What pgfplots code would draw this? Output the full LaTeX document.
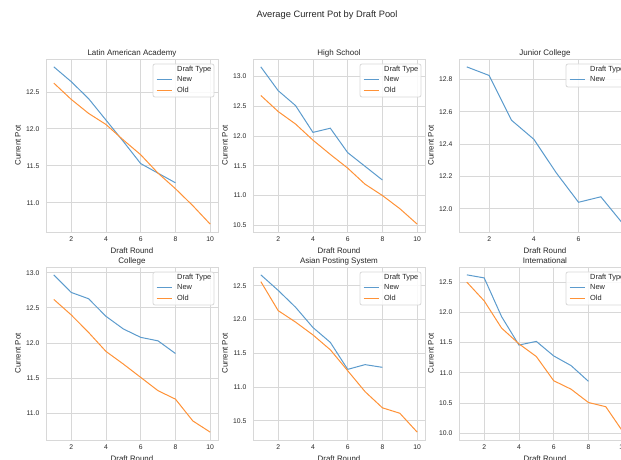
\documentclass[border=0pt]{standalone}
\usepackage{fontspec}
\setmainfont{Liberation Sans}
\usepackage{pgfplots}
\pgfplotsset{compat=1.18}
\definecolor{newc}{RGB}{92,155,205}
\definecolor{oldc}{RGB}{255,146,55}
\definecolor{txt}{HTML}{262626}
\definecolor{gridc}{HTML}{D8D8D8}
\newcommand{\legfont}{\fontsize{7.4}{8.8}\selectfont}
% legend: frame, title and entries, placed relative to the axis top-right corner
\newcommand{\legendbox}[1]{%
  \draw[gridc, fill=white, fill opacity=0.85, rounded corners=2pt, line width=0.8pt]
     (axis description cs:1,1) ++(-65pt,-5pt) rectangle ++(61pt,-#1);
  \node[anchor=base west, inner sep=0pt, font=\legfont, text=txt]
     at ([shift={(-41pt,-12.7pt)}]axis description cs:1,1) {Draft Type};}
\newcommand{\legendentry}[3]{% color, row centre offset, text
  \draw[#1, line width=1pt] ([shift={(-61.3pt,-#2)}]axis description cs:1,1) -- ++(15.6pt,0pt);
  \node[anchor=west, inner sep=0pt, font=\legfont, text=txt]
     at ([shift={(-41pt,-#2)}]axis description cs:1,1) {\vphantom{Nd}#3};}
\pgfplotsset{
 every axis title shift=0pt,
 newline/.style={color=newc, line width=1pt},
 oldline/.style={color=oldc, line width=1pt},
 panel/.style={
  scale only axis, width=172pt, height=173pt,
  anchor=south west,
  axis line style={draw=gridc, line width=0.8pt},
  grid=major, major grid style={draw=gridc, line width=0.8pt},
  major tick length=0pt,
  xtick={2,4,6,8,10},
  xmin=0.55, xmax=10.45,
  /pgf/number format/assume math mode=true,
  ticklabel style={font=\fontsize{6.8}{8}\selectfont, text=txt, inner sep=0pt},
  xticklabel style={anchor=north, yshift=-5pt},
  yticklabel style={anchor=east, xshift=-6.5pt, /pgf/number format/.cd, fixed, fixed zerofill, precision=1},
  xlabel={Draft Round}, ylabel={Current Pot},
  label style={font=\fontsize{7.9}{9.5}\selectfont, text=txt},
  xlabel style={at={(axis description cs:0.5,-0.127)}, anchor=base},
  ylabel style={at={(axis description cs:-0.163,0.5)}, anchor=center},
  title style={at={(axis description cs:0.5,1.021)}, anchor=base, font=\fontsize{8}{9.6}\selectfont, text=txt},
  clip=false,
 }
}
\begin{document}
\begin{tikzpicture}[x=1pt,y=1pt]
% Latin American Academy
\begin{axis}[panel, at={(46pt,228pt)}, title={Latin American Academy},
  ymin=10.6035, ymax=12.9465, ytick={11,11.5,12,12.5}]
\addplot[newline] coordinates {(1,12.84) (2,12.64) (3,12.41) (4,12.12) (5,11.83) (6,11.53) (7,11.40) (8,11.27)};
\addplot[oldline] coordinates {(1,12.62) (2,12.40) (3,12.21) (4,12.06) (5,11.85) (6,11.65) (7,11.40) (8,11.19) (9,10.96) (10,10.71)};
\legendbox{33pt}
\legendentry{newc}{20.3pt}{New}
\legendentry{oldc}{31.2pt}{Old}
\end{axis}
% High School
\begin{axis}[panel, at={(253pt,228pt)}, title={High School},
  ymin=10.388, ymax=13.292, ytick={10.5,11,11.5,12,12.5,13}]
\addplot[newline] coordinates {(1,13.16) (2,12.76) (3,12.51) (4,12.06) (5,12.13) (6,11.72) (7,11.49) (8,11.26)};
\addplot[oldline] coordinates {(1,12.68) (2,12.41) (3,12.20) (4,11.93) (5,11.69) (6,11.46) (7,11.19) (8,11.00) (9,10.78) (10,10.52)};
\legendbox{33pt}
\legendentry{newc}{20.3pt}{New}
\legendentry{oldc}{31.2pt}{Old}
\end{axis}
% Junior College
\begin{axis}[panel, at={(459pt,228pt)}, title={Junior College},
  xmin=0.65, xmax=8.35, ymin=11.856, ymax=12.927, ytick={12,12.2,12.4,12.6,12.8}]
\addplot[newline] coordinates {(1,12.878) (2,12.825) (3,12.548) (4,12.43) (5,12.223) (6,12.04) (7,12.074) (8,11.905)};
\legendbox{23pt}
\legendentry{newc}{20.3pt}{New}
\end{axis}
% College
\begin{axis}[panel, at={(46pt,20pt)}, title={College},
  ymin=10.618, ymax=13.082, ytick={11,11.5,12,12.5,13}]
\addplot[newline] coordinates {(1,12.97) (2,12.72) (3,12.63) (4,12.38) (5,12.20) (6,12.08) (7,12.03) (8,11.85)};
\addplot[oldline] coordinates {(1,12.62) (2,12.40) (3,12.15) (4,11.88) (5,11.70) (6,11.51) (7,11.32) (8,11.20) (9,10.89) (10,10.73)};
\legendbox{33pt}
\legendentry{newc}{20.3pt}{New}
\legendentry{oldc}{31.2pt}{Old}
\end{axis}
% Asian Posting System
\begin{axis}[panel, at={(253pt,20pt)}, title={Asian Posting System},
  ymin=10.2135, ymax=12.7765, ytick={10.5,11,11.5,12,12.5}]
\addplot[newline] coordinates {(1,12.66) (2,12.43) (3,12.18) (4,11.88) (5,11.66) (6,11.26) (7,11.33) (8,11.29)};
\addplot[oldline] coordinates {(1,12.56) (2,12.13) (3,11.96) (4,11.77) (5,11.55) (6,11.24) (7,10.93) (8,10.69) (9,10.61) (10,10.33)};
\legendbox{33pt}
\legendentry{newc}{20.3pt}{New}
\legendentry{oldc}{31.2pt}{Old}
\end{axis}
% International
\begin{axis}[panel, at={(459pt,20pt)}, title={International},
  ymin=9.89, ymax=12.75, ytick={10,10.5,11,11.5,12,12.5}]
\addplot[newline] coordinates {(1,12.62) (2,12.57) (3,11.93) (4,11.46) (5,11.52) (6,11.28) (7,11.12) (8,10.86)};
\addplot[oldline] coordinates {(1,12.50) (2,12.19) (3,11.74) (4,11.48) (5,11.27) (6,10.87) (7,10.73) (8,10.51) (9,10.44) (10,10.02)};
\legendbox{33pt}
\legendentry{newc}{20.3pt}{New}
\legendentry{oldc}{31.2pt}{Old}
\end{axis}
\node[anchor=base, font=\fontsize{9.3}{11}\selectfont, text=txt] at (327pt,442.5pt) {Average Current Pot by Draft Pool};
\pgfresetboundingbox
\path[use as bounding box] (0pt,0pt) rectangle (621pt,460pt);
\end{tikzpicture}
\end{document}
